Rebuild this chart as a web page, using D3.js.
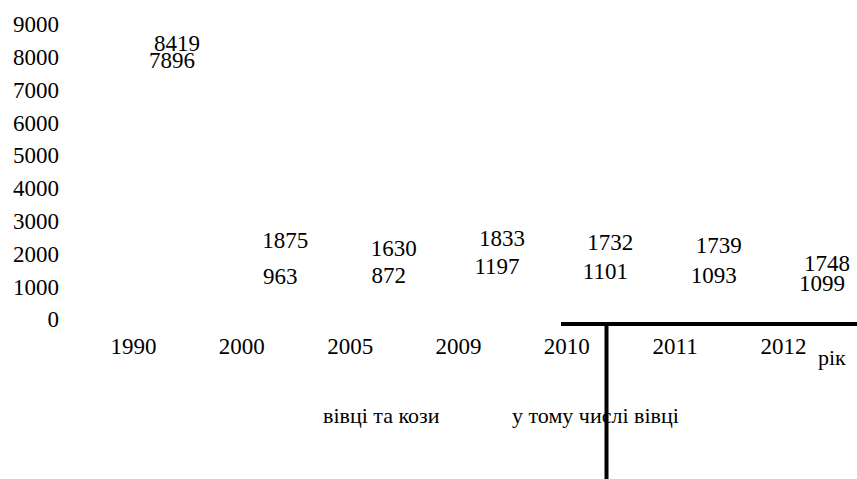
<!DOCTYPE html>
<html><head><meta charset="utf-8">
<script src="https://cdn.jsdelivr.net/npm/d3@7"></script>
<style>
html,body{margin:0;padding:0;background:#fff;}
</style></head>
<body>
<svg id="c" width="857" height="479"></svg>
<script>
// ---- data ----
const years = ["1990","2000","2005","2009","2010","2011","2012"];
const sheepGoats = [8419,1875,1630,1833,1732,1739,1748];
const sheepOnly  = [7896,963,872,1197,1101,1093,1099];
const yTicks = [0,1000,2000,3000,4000,5000,6000,7000,8000,9000];
const seriesNames = ["вівці та кози","у тому числі вівці"];
const axisTitle = "рік";

// ---- layout (label nudges, px) ----
const nudge1 = [0.5,-17,-17,-21,-20,-17,1.3];
const nudge2 = [0,-11.5,-15.5,-13.3,-12,-8,0.5];

const FONT = "'Liberation Serif', 'Times New Roman', serif";
const fs = 23;
const svg = d3.select("#c");
const y = d3.scaleLinear().domain([0,9000]).range([319,24]);
const x = d3.scalePoint().domain(years).range([133,783]);

function styleText(sel, size){
  sel.style("font-family",FONT).style("font-size",(size||fs)+"px").style("fill","#000");
}

// y axis
const ya = svg.append("g").attr("transform","translate(59,0)")
  .call(d3.axisLeft(y).tickValues(yTicks).tickSize(0).tickPadding(0).tickFormat(d3.format("d")));
ya.attr("font-family",null);
ya.select(".domain").remove();
ya.selectAll("text").attr("dy","0.34em").call(styleText);

// x axis labels
const xa = svg.append("g").attr("transform","translate(0,346)")
  .call(d3.axisBottom(x).tickSize(0).tickPadding(0));
xa.attr("font-family",null);
xa.select(".domain").remove();
xa.selectAll("text").attr("dy","0.34em").attr("y",0).call(styleText);

// value labels
svg.append("g").selectAll("text").data(sheepGoats).join("text")
  .attr("x",(d,i)=>x(years[i])+44).attr("y",(d,i)=>y(d)+nudge1[i])
  .attr("dy","0.34em").attr("text-anchor","middle").text(d=>d).call(styleText);
svg.append("g").selectAll("text").data(sheepOnly).join("text")
  .attr("x",(d,i)=>x(years[i])+39).attr("y",(d,i)=>y(d)+nudge2[i])
  .attr("dy","0.34em").attr("text-anchor","middle").text(d=>d).call(styleText);

// axis title
svg.append("text").attr("x",818).attr("y",358).attr("dy","0.34em").text(axisTitle).call(styleText, 22);

// stray lines
svg.append("line").attr("x1",561).attr("x2",857).attr("y1",324).attr("y2",324).attr("stroke","#000").attr("stroke-width",4);
svg.append("line").attr("x1",606.5).attr("x2",606.5).attr("y1",322).attr("y2",479).attr("stroke","#000").attr("stroke-width",4);

// legend texts
svg.append("text").attr("x",323).attr("y",416).attr("dy","0.34em").text(seriesNames[0]).call(styleText, 22);
svg.append("text").attr("x",512).attr("y",416).attr("dy","0.34em").text(seriesNames[1]).call(styleText, 22);
</script>
</body></html>
